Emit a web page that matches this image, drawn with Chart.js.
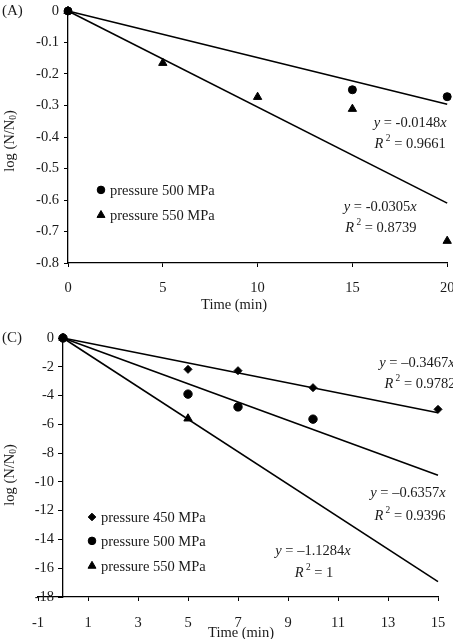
<!DOCTYPE html>
<html>
<head>
<meta charset="utf-8">
<script src="https://cdn.jsdelivr.net/npm/chart.js@4.4.0/dist/chart.umd.min.js"></script>
<style>
    body { margin: 0; background: #fff; }
    .panel { position: absolute; left: 0; width: 453px; }
</style>
</head>
<body>
<div class="panel" style="top:0;height:315px"><canvas id="chartA" width="453" height="315"></canvas></div>
<div class="panel" style="top:320px;height:319px"><canvas id="chartC" width="453" height="319"></canvas></div>
<script>
// ---- panel (A) ----
const timeA500 = [0, 15, 20];
const logA500 = [0, -0.25, -0.272];
const timeA550 = [0, 5, 10, 15, 20];
const logA550 = [0, -0.165, -0.273, -0.311, -0.73];
const slopesA = [-0.0148, -0.0305];
const fitEndA = [-0.296, -0.61];   // trend line values at t = 20
const xTicksA = [0, 5, 10, 15, 20];
const yTicksA = [0, -0.1, -0.2, -0.3, -0.4, -0.5, -0.6, -0.7, -0.8];

// ---- panel (C) ----
const timeC450 = [0, 5, 7, 10, 15];
const logC450 = [0, -2.18, -2.27, -3.45, -4.96];
const timeC500 = [0, 5, 7, 10];
const logC500 = [0, -3.9, -4.79, -5.64];
const timeC550 = [0, 5];
const logC550 = [0, -5.6];
const slopesC = [-0.3467, -0.6357, -1.1284];
const fitEndC = [-5.2, -9.54, -16.93];  // trend line values at t = 15
const xTicksC = [-1, 1, 3, 5, 7, 9, 11, 13, 15];
const yTicksC = [0, -2, -4, -6, -8, -10, -12, -14, -16, -18];

const FONT = "'Liberation Serif', 'Times New Roman', serif";
const INK = '#1a1a1a';
const SIZE = 14.5;

function pts(xs, ys) {
    return xs.map((x, i) => ({x: x, y: ys[i]}));
}

function markerSet(label, xs, ys, style, r) {
    return {
        type: 'scatter', label: label, data: pts(xs, ys),
        pointStyle: style, pointRadius: r, pointHoverRadius: r,
        backgroundColor: '#000', borderColor: '#000', borderWidth: 1, clip: false
    };
}

function fitLine(x1, y1) {
    return {
        type: 'line', data: [{x: 0, y: 0}, {x: x1, y: y1}],
        borderColor: '#000', borderWidth: 1.6, pointRadius: 0, fill: false, clip: false
    };
}

// text made of pieces: [text, kind]; kind n = normal, i = italic, s = superscript, sub = subscript
function richText(ctx, x, y, parts, size) {
    const fontOf = k => (k === 'i' ? 'italic ' : '') + ((k === 's' || k === 'sub') ? size * 0.65 : size) + 'px ' + FONT;
    let w = 0;
    parts.forEach(p => { ctx.font = fontOf(p[1]); w += ctx.measureText(p[0]).width; });
    let cx = x - w / 2;
    ctx.textAlign = 'left';
    ctx.textBaseline = 'middle';
    parts.forEach(p => {
        ctx.font = fontOf(p[1]);
        let dy = 0;
        if (p[1] === 's') dy = -size * 0.35;
        if (p[1] === 'sub') dy = size * 0.25;
        ctx.fillText(p[0], cx, y + dy);
        cx += ctx.measureText(p[0]).width;
    });
}

const notesPlugin = {
    id: 'notes',
    afterDraw(chart) {
        const o = chart.options.plugins.notes;
        const ctx = chart.ctx;
        const sx = chart.scales.x, sy = chart.scales.y;
        ctx.save();
        ctx.fillStyle = INK;

        // y tick labels for an axis that crosses inside the plot
        if (o.yLabels) {
            const ax = sx.getPixelForValue(0);
            ctx.font = SIZE + 'px ' + FONT;
            ctx.textAlign = 'right';
            ctx.textBaseline = 'middle';
            o.yLabels.forEach(v => ctx.fillText(String(v), ax - 9, sy.getPixelForValue(v)));
        }

        o.eqs.forEach(e => {
            richText(ctx, sx.getPixelForValue(e.x), sy.getPixelForValue(e.y), e.parts, SIZE);
        });

        o.legend.forEach(l => {
            const px = sx.getPixelForValue(l.x), py = sy.getPixelForValue(l.y);
            ctx.fillStyle = '#000';
            ctx.strokeStyle = '#000';
            ctx.lineWidth = 1;
            Chart.helpers.drawPoint(ctx, {pointStyle: l.style, radius: l.r, rotation: 0, borderWidth: 1}, px, py);
            ctx.fillStyle = INK;
            ctx.font = SIZE + 'px ' + FONT;
            ctx.textAlign = 'left';
            ctx.textBaseline = 'middle';
            ctx.fillText(l.text, px + 9, py + 1);
        });

        ctx.font = '15px ' + FONT;
        ctx.textBaseline = 'middle';
        ctx.textAlign = 'left';
        ctx.fillText(o.tag[0], o.tag[1], o.tag[2]);
        ctx.font = SIZE + 'px ' + FONT;
        ctx.textAlign = 'center';
        ctx.fillText('Time (min)', o.xTitle[0], o.xTitle[1]);
        ctx.translate(o.yTitle[0], o.yTitle[1]);
        ctx.rotate(-Math.PI / 2);
        richText(ctx, 0, 0, [['log (N/N', 'n'], ['0', 'sub'], [')', 'n']], SIZE);
        ctx.restore();
    }
};

function axisCommon(ticksArr, box) {
    return {
        type: 'linear',
        afterBuildTicks: s => { s.ticks = ticksArr.map(v => ({value: v})); },
        afterFit: s => {
            s.paddingLeft = 0; s.paddingRight = 0; s.paddingTop = 0; s.paddingBottom = 0;
            if (box.width) s.width = box.width;
            if (box.height) s.height = box.height;
        },
        grid: {drawOnChartArea: false, drawTicks: true, tickLength: 4, color: '#000', lineWidth: 1},
        border: {color: '#000', width: 1.3},
        ticks: {
            color: INK, font: {family: FONT, size: SIZE}, maxRotation: 0, autoSkip: false,
            padding: box.pad, display: box.labels !== false,
            callback: v => String(v)
        }
    };
}

function buildOptions(x, y, padding, notes) {
    return {
        responsive: false, animation: false, events: [],
        layout: {padding: padding},
        scales: {x: x, y: y},
        plugins: {legend: {display: false}, tooltip: {enabled: false}, notes: notes}
    };
}

// ---------- chart A ----------
const xA = Object.assign(axisCommon(xTicksA, {height: 52, pad: 12}), {min: 0, max: 20, position: 'bottom'});
const yA = Object.assign(axisCommon(yTicksA, {width: 68, pad: 5}), {min: -0.8, max: 0, position: 'left'});

new Chart(document.getElementById('chartA'), {
    data: {
        datasets: [
            fitLine(20, fitEndA[0]),
            fitLine(20, fitEndA[1]),
            markerSet('pressure 550 MPa', timeA550, logA550, 'triangle', 4.8),
            markerSet('pressure 500 MPa', timeA500, logA500, 'circle', 4)
        ]
    },
    options: buildOptions(xA, yA, {top: 11, right: 5, left: 0, bottom: 0}, {
        eqs: [
            {x: 18.05, y: -0.356, parts: [['y', 'i'], [' = ' + slopesA[0], 'n'], ['x', 'i']]},
            {x: 18.05, y: -0.422, parts: [['R', 'i'], [' 2', 's'], [' = 0.9661', 'n']]},
            {x: 16.47, y: -0.622, parts: [['y', 'i'], [' = ' + slopesA[1], 'n'], ['x', 'i']]},
            {x: 16.5, y: -0.689, parts: [['R', 'i'], [' 2', 's'], [' = 0.8739', 'n']]}
        ],
        legend: [
            {x: 1.74, y: -0.568, style: 'circle', r: 3.8, text: 'pressure 500 MPa'},
            {x: 1.74, y: -0.648, style: 'triangle', r: 4.6, text: 'pressure 550 MPa'}
        ],
        tag: ['(A)', 2, 11],
        xTitle: [234, 305],
        yTitle: [10, 141]
    }),
    plugins: [notesPlugin]
});

// ---------- chart C ----------
const dash = v => String(v).replace('-', '\u2013');
const xC = Object.assign(axisCommon(xTicksC, {height: 42, pad: 13}), {min: -1, max: 15, position: 'bottom'});
const yC = Object.assign(axisCommon(yTicksC, {labels: false, pad: 5}), {min: -18, max: 0, position: {x: 0}});

new Chart(document.getElementById('chartC'), {
    data: {
        datasets: [
            fitLine(15, fitEndC[0]),
            fitLine(15, fitEndC[1]),
            fitLine(15, fitEndC[2]),
            markerSet('pressure 450 MPa', timeC450, logC450, 'rectRot', 4),
            markerSet('pressure 550 MPa', timeC550, logC550, 'triangle', 4.8),
            markerSet('pressure 500 MPa', timeC500, logC500, 'circle', 4.2)
        ]
    },
    options: buildOptions(xC, yC, {top: 18, right: 15, left: 38, bottom: 0}, {
        yLabels: yTicksC,
        eqs: [
            {x: 14.16, y: -1.74, parts: [['y', 'i'], [' = ' + dash(slopesC[0]), 'n'], ['x', 'i']]},
            {x: 14.28, y: -3.2, parts: [['R', 'i'], [' 2', 's'], [' = 0.9782', 'n']]},
            {x: 13.8, y: -10.77, parts: [['y', 'i'], [' = ' + dash(slopesC[1]), 'n'], ['x', 'i']]},
            {x: 13.88, y: -12.37, parts: [['R', 'i'], [' 2', 's'], [' = 0.9396', 'n']]},
            {x: 10.0, y: -14.8, parts: [['y', 'i'], [' = ' + dash(slopesC[2]), 'n'], ['x', 'i']]},
            {x: 10.04, y: -16.33, parts: [['R', 'i'], [' 2', 's'], [' = 1', 'n']]}
        ],
        legend: [
            {x: 1.16, y: -12.44, style: 'rectRot', r: 3.8, text: 'pressure 450 MPa'},
            {x: 1.16, y: -14.1, style: 'circle', r: 3.8, text: 'pressure 500 MPa'},
            {x: 1.16, y: -15.84, style: 'triangle', r: 4.6, text: 'pressure 550 MPa'}
        ],
        tag: ['(C)', 2, 18],
        xTitle: [241, 313],
        yTitle: [10, 155]
    }),
    plugins: [notesPlugin]
});
</script>
</body>
</html>
